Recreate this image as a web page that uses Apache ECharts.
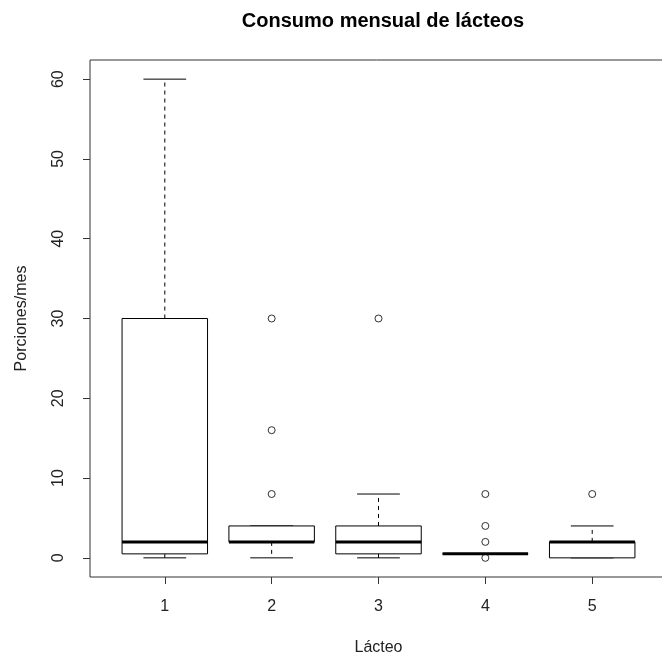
<!DOCTYPE html>
<html>
<head>
<meta charset="utf-8">
<script src="https://cdn.jsdelivr.net/npm/echarts@6/dist/echarts.min.js"></script>
<style>
  html, body { margin: 0; padding: 0; background: #fff; }
  #chart { width: 662px; height: 657px; }
</style>
</head>
<body>
<div id="chart"></div>
<script>
// categories on the x axis
const categories = [1, 2, 3, 4, 5]
// box stats per category: [min, Q1, median, Q3, max] (whisker ends)
const boxStats = [
  [0, 0.5, 2, 30, 60],
  [0, 2, 2, 4, 4],
  [0, 0.5, 2, 4, 8],
  [0.5, 0.5, 0.5, 0.5, 0.5],
  [0, 0, 2, 2, 4]
]
// outliers as [category, value]
const outliers = [
  [2, 8], [2, 16], [2, 30],
  [3, 30],
  [4, 0], [4, 2], [4, 4], [4, 8],
  [5, 8]
]
const yTicks = [0, 10, 20, 30, 40, 50, 60]

const chart = echarts.init(document.getElementById('chart'))

const boxData = categories.map((c, i) => [c].concat(boxStats[i]))

function renderBox(params, api) {
  const x = api.value(0)
  const lo = api.coord([x, api.value(1)])
  const q1 = api.coord([x, api.value(2)])
  const med = api.coord([x, api.value(3)])
  const q3 = api.coord([x, api.value(4)])
  const hi = api.coord([x, api.value(5)])
  const w = api.size([0.8, 0])[0]
  const cap = w / 2
  const cx = lo[0]
  const solid = { stroke: '#000', lineWidth: 1, fill: null }
  const dashed = { stroke: '#000', lineWidth: 1, lineDash: [4, 4], fill: null }
  return {
    type: 'group',
    children: [
      { type: 'line', shape: { x1: cx, y1: q3[1], x2: cx, y2: hi[1] }, style: dashed },
      { type: 'line', shape: { x1: cx, y1: q1[1], x2: cx, y2: lo[1] }, style: dashed },
      { type: 'line', shape: { x1: cx - cap / 2, y1: hi[1], x2: cx + cap / 2, y2: hi[1] }, style: solid },
      { type: 'line', shape: { x1: cx - cap / 2, y1: lo[1], x2: cx + cap / 2, y2: lo[1] }, style: solid },
      { type: 'rect', shape: { x: cx - w / 2, y: q3[1], width: w, height: q1[1] - q3[1] }, style: { stroke: '#000', lineWidth: 1, fill: '#fff' } },
      { type: 'line', shape: { x1: cx - w / 2, y1: med[1], x2: cx + w / 2, y2: med[1] }, style: { stroke: '#000', lineWidth: 3 } }
    ]
  }
}

const option = {
  animation: false,
  backgroundColor: '#fff',
  textStyle: { fontFamily: 'Liberation Sans, Arial, sans-serif' },
  title: {
    text: 'Consumo mensual de lácteos',
    left: 378,
    textAlign: 'center',
    top: 6,
    textStyle: { fontSize: 20, fontWeight: 'bold', color: '#000', fontFamily: 'Liberation Sans, Arial, sans-serif' }
  },
  grid: {
    left: 90,
    top: 60,
    width: 577,
    height: 517,
    outerBoundsMode: 'none',
    containLabel: false,
    show: true,
    borderColor: '#333',
    borderWidth: 1,
    backgroundColor: 'transparent'
  },
  xAxis: {
    type: 'value',
    min: 0.3,
    max: 5.7,
    name: 'Lácteo',
    nameLocation: 'middle',
    nameGap: 63,
    nameTextStyle: { fontSize: 16, color: '#222' },
    axisLine: { show: false, onZero: false },
    splitLine: { show: false },
    axisTick: { show: true, length: 7, customValues: categories, lineStyle: { color: '#333' } },
    axisLabel: { customValues: categories, fontSize: 16, color: '#222', margin: 22 }
  },
  yAxis: {
    type: 'value',
    min: -2.4,
    max: 62.4,
    name: 'Porciones/mes',
    nameLocation: 'middle',
    nameGap: 60,
    nameTextStyle: { fontSize: 16, color: '#222' },
    axisLine: { show: false, onZero: false },
    splitLine: { show: false },
    axisTick: { show: true, length: 7, customValues: yTicks, lineStyle: { color: '#333' } },
    axisLabel: { customValues: yTicks, rotate: 90, fontSize: 16, color: '#222', margin: 23 }
  },
  series: [
    {
      type: 'custom',
      renderItem: renderBox,
      data: boxData,
      encode: { x: 0, y: [1, 2, 3, 4, 5] },
      clip: false
    },
    {
      type: 'scatter',
      data: outliers,
      symbol: 'circle',
      symbolSize: 7,
      itemStyle: { color: 'transparent', borderColor: '#000', borderWidth: 1 },
      z: 3
    }
  ]
}

chart.setOption(option)
</script>
</body>
</html>
